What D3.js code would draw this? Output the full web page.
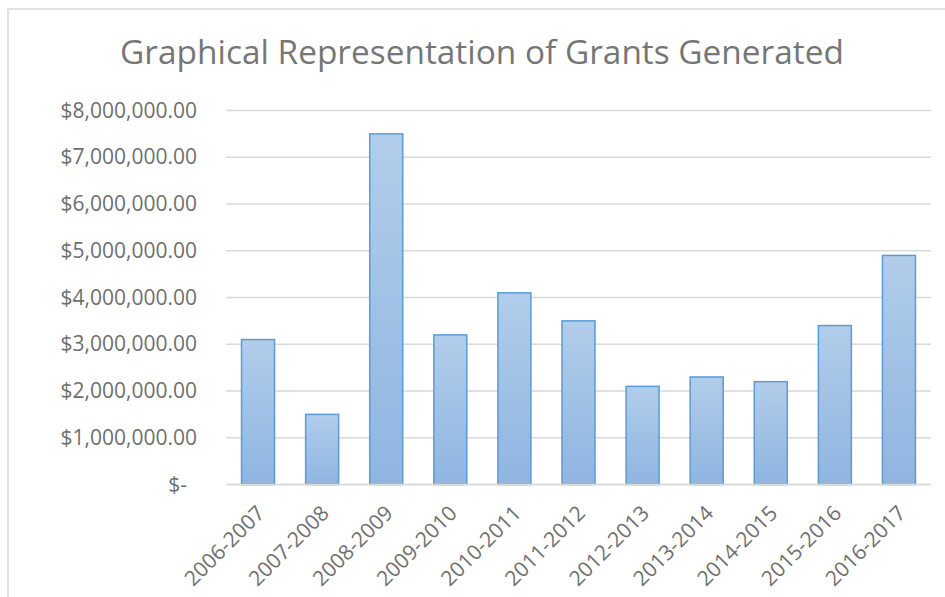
<!DOCTYPE html>
<html>
<head>
<meta charset="utf-8">
<script src="https://cdn.jsdelivr.net/npm/d3@7"></script>
<style>
  body { margin: 0; background: #fff; }
  svg text { font-family: "Open Sans", "Noto Sans", sans-serif; }
</style>
</head>
<body>
<div id="chart"></div>
<script>
// data
var years = ["2006-2007", "2007-2008", "2008-2009", "2009-2010", "2010-2011", "2011-2012",
             "2012-2013", "2013-2014", "2014-2015", "2015-2016", "2016-2017"];
var grants = [3100000, 1500000, 7500000, 3200000, 4100000, 3500000,
              2100000, 2300000, 2200000, 3400000, 4900000];
var yTicks = [0, 1000000, 2000000, 3000000, 4000000, 5000000, 6000000, 7000000, 8000000];

var width = 945, height = 597;
var plotLeft = 226, plotRight = 931, plotTop = 110.5, plotBottom = 484.5;

var svg = d3.select("#chart").append("svg")
    .attr("width", width)
    .attr("height", height);

// chart area border
svg.append("rect")
  .attr("x", 8).attr("y", 9)
  .attr("width", 960).attr("height", 620)
  .attr("fill", "#fff")
  .attr("stroke", "#d9d9d9")
  .attr("stroke-width", 1.5);

var grad = svg.append("defs").append("linearGradient")
  .attr("id", "barfill")
  .attr("x1", 0).attr("y1", 0).attr("x2", 0).attr("y2", 1);
grad.append("stop").attr("offset", "0%").attr("stop-color", "#b1cdea");
grad.append("stop").attr("offset", "100%").attr("stop-color", "#8fb5e1");

svg.append("text")
  .attr("x", 482).attr("y", 64)
  .attr("text-anchor", "middle")
  .attr("font-size", "33.4px")
  .attr("fill", "#767676")
  .text("Graphical Representation of Grants Generated");

var x = d3.scaleBand().domain(years).range([plotLeft, plotRight]).paddingInner(0.485).paddingOuter(0.2425);
var y = d3.scaleLinear().domain([0, 8000000]).range([plotBottom, plotTop]);

var money = function(d){
  if (d === 0) return "$-";
  return "$" + d3.format(",.2f")(d);
};

// gridlines
svg.append("g")
  .selectAll("line")
  .data(yTicks)
  .enter().append("line")
    .attr("x1", plotLeft).attr("x2", plotRight)
    .attr("y1", function(d){ return y(d); })
    .attr("y2", function(d){ return y(d); })
    .attr("stroke", "#d9d9d9")
    .attr("stroke-width", 1.5);

// y axis labels
var yAxis = d3.axisLeft(y).tickValues(yTicks).tickFormat(money).tickSize(0).tickPadding(29);
var ya = svg.append("g").attr("transform", "translate(" + plotLeft + ",0)").call(yAxis);
ya.select(".domain").remove();
ya.selectAll("text")
  .attr("font-size", "21px")
  .attr("fill", "#6f6f6f")
  .attr("font-family", "Open Sans, Noto Sans, sans-serif")
  .attr("dx", function(d){ return d === 0 ? -10 : 0; });

// bars
svg.append("g")
  .selectAll("rect")
  .data(grants)
  .enter().append("rect")
    .attr("x", function(d, i){ return x(years[i]); })
    .attr("y", function(d){ return y(d); })
    .attr("width", x.bandwidth())
    .attr("height", function(d){ return plotBottom - y(d); })
    .attr("fill", "url(#barfill)")
    .attr("stroke", "#5b9bd5")
    .attr("stroke-width", 1.5);

// x axis
var xAxis = d3.axisBottom(x).tickSize(0).tickPadding(0);
var xa = svg.append("g").attr("transform", "translate(0," + plotBottom + ")").call(xAxis);
xa.select(".domain").remove();
xa.selectAll("text")
  .attr("font-size", "21px")
  .attr("fill", "#6f6f6f")
  .attr("font-family", "Open Sans, Noto Sans, sans-serif")
  .attr("text-anchor", "end")
  .attr("dy", null)
  .attr("transform", "translate(8,30) rotate(-45)");

svg.append("line")
  .attr("x1", plotLeft).attr("x2", plotRight)
  .attr("y1", plotBottom).attr("y2", plotBottom)
  .attr("stroke", "#d9d9d9")
  .attr("stroke-width", 1.5);
</script>
</body>
</html>
